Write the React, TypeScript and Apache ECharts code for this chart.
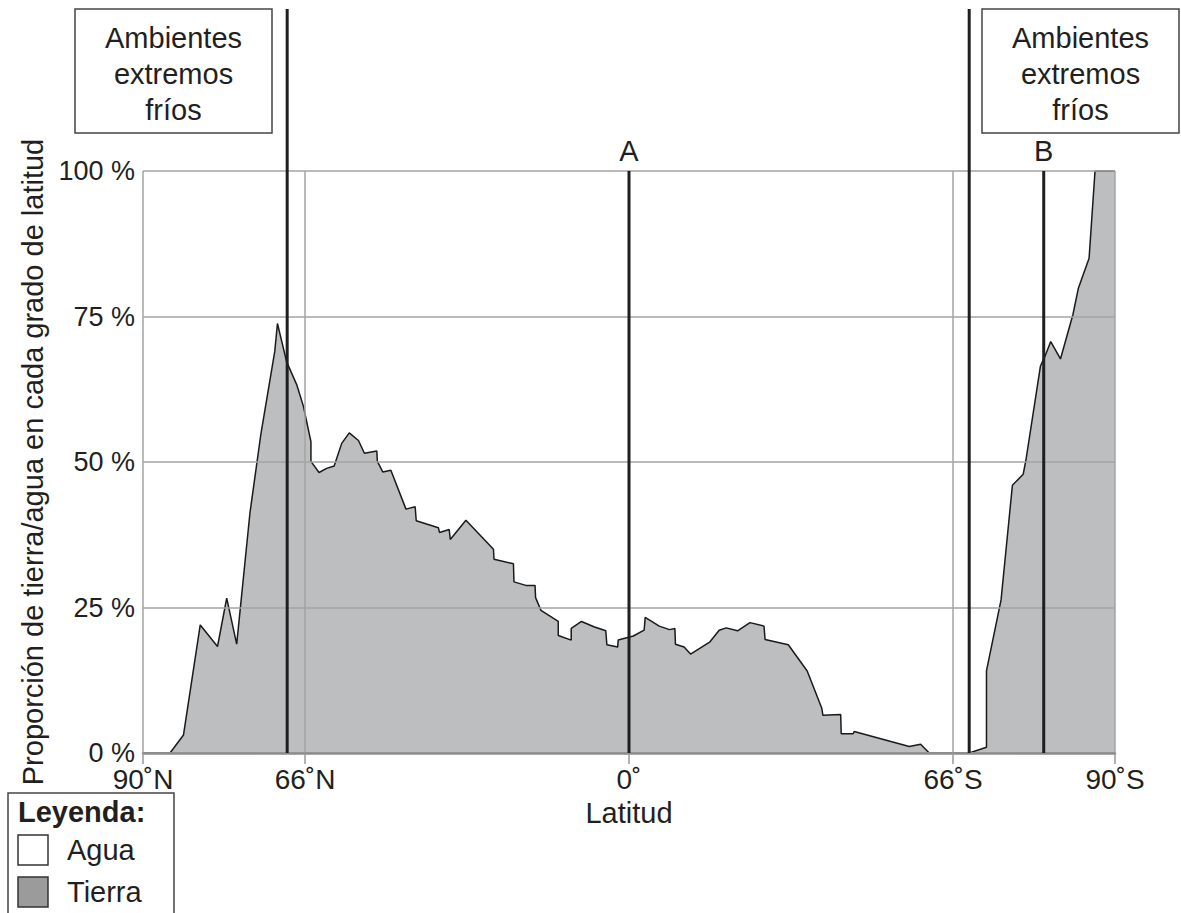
import React, { useEffect, useRef } from "react";
import * as echarts from "echarts";

// Latitude (positive = North, negative = South)
const latitudes = [
  90, 85, 82.5, 79.4, 76.2, 74.5, 72.65, 70.2, 68.2, 65.6, 65.1, 63.4, 61.5, 60.3, 58.9, 58.9,
  57.4, 56, 54.6, 53.2, 51.8, 50.1, 49, 46.7, 46.6, 45.6, 44.1, 41.3, 39.6, 39.4, 35.3, 35.1,
  33.3, 33.1, 30.2, 25.1, 25, 21.4, 21.3, 19.1, 17.4, 17.3, 16.3, 13.1, 13.1, 10.7, 10.7, 8.8,
  6.5, 4.3, 4.1, 2.1, 2, -0.8, -2.8, -3, -5.6, -7.5, -8.5, -8.6, -10.2, -11.4, -15, -16.7,
  -18, -20.1, -22.4, -25, -25.2, -29.5, -33, -35.7, -35.9, -39.2, -39.3, -41.5, -41.7, -51.9,
  -54, -55.6, -63, -66.2, -66.2, -68.9, -71, -73, -73.5, -76.2, -77, -78.1, -79.9, -82.2,
  -83.2, -85.2, -86.3, -90,
];
// Proportion of land (Tierra) in each degree of latitude, %
const tierra = [
  0, 0, 3.1, 22, 18.3, 26.6, 18.7, 41.2, 54.6, 69, 73.8, 67.2, 63.2, 59.6, 53.5, 50.1,
  48.2, 48.9, 49.3, 53.2, 55, 53.7, 51.5, 51.9, 50.1, 48.3, 48.6, 41.9, 42.3, 39.9, 38.7, 37.9,
  38.4, 36.7, 40, 35, 33.3, 32.5, 29.4, 28.8, 28.8, 26.7, 24.5, 22.6, 20.2, 19.4, 21.4, 22.6,
  21.7, 21, 18.6, 18.2, 19.4, 20.1, 21.1, 23.3, 21.8, 21.2, 21.4, 18.7, 18.2, 17, 19.1, 21.1,
  21.5, 21, 22.4, 21.8, 19.5, 18.6, 14.1, 7.7, 6.5, 6.6, 3.3, 3.3, 3.7, 1.1,
  1.5, 0, 0, 1, 14.1, 26.3, 46, 47.9, 50.3, 66.5, 68.1, 70.7, 67.7, 75.3,
  79.8, 85, 100, 100,
];

const xTickValues = [90, 60, 0, -60, -90];
const xTickLabels = ["90˚N", "66˚N", "0˚", "66˚S", "90˚S"];
const boundaryLines = [63.3, -63];
const markedLines = [0, -76.8];
const markedLabels = ["A", "B"];
const boxLines = ["Ambientes", "extremos", "fríos"];
const legendTitle = "Leyenda:";
const legendNames = ["Agua", "Tierra"];
const legendColors = ["#ffffff", "#9b9b9b"];

const TEXT = "#231f20";
const FONT = '"Liberation Sans", Arial, Helvetica, sans-serif';

export default function App() {
  const ref = useRef<HTMLDivElement>(null);
  useEffect(() => {
    if (!ref.current) return;
    const chart = echarts.init(ref.current, null, { renderer: "svg" });
    const labelFor = (v: number) => {
      const i = xTickValues.indexOf(v);
      return i >= 0 ? xTickLabels[i] : "";
    };
    chart.setOption({
      animation: false,
      backgroundColor: "#ffffff",
      grid: { left: 143, right: 66, top: 171, bottom: 160, containLabel: false },
      xAxis: {
        type: "value",
        min: -90,
        max: 90,
        interval: 30,
        inverse: true,
        z: 3,
        name: "Latitud",
        nameLocation: "middle",
        nameGap: 45,
        nameTextStyle: { fontSize: 29, color: TEXT, fontFamily: FONT },
        axisLine: { show: true, lineStyle: { color: "#8c8c8c", width: 2.5 } },
        axisTick: {
          show: true,
          customValues: xTickValues,
          length: 11,
          lineStyle: { color: "#9a9a9a", width: 1.5 },
        },
        axisLabel: {
          show: true,
          customValues: xTickValues,
          margin: 12,
          fontSize: 28,
          color: TEXT,
          fontFamily: FONT,
          formatter: (v: number) => labelFor(v),
        },
        splitLine: { show: true, lineStyle: { color: "#a3a3a3", width: 1.5 } },
      },
      yAxis: {
        type: "value",
        min: 0,
        max: 100,
        interval: 25,
        z: 3,
        name: "Proporción de tierra/agua en cada grado de latitud",
        nameLocation: "middle",
        nameGap: 92,
        nameTextStyle: { fontSize: 29, color: TEXT, fontFamily: FONT },
        axisLine: { show: true, lineStyle: { color: "#a3a3a3", width: 1.5 } },
        axisTick: { show: false },
        axisLabel: {
          margin: 8,
          fontSize: 27,
          color: TEXT,
          fontFamily: FONT,
          formatter: "{value} %",
        },
        splitLine: { show: true, lineStyle: { color: "#a3a3a3", width: 1.5 } },
      },
      series: [
        {
          type: "line",
          name: "Tierra",
          data: latitudes.map((lat, i) => [lat, tierra[i]]),
          symbol: "none",
          z: 2,
          lineStyle: { color: "#1a1a1a", width: 1.5 },
          areaStyle: { color: "#bdbec0", opacity: 1 },
        },
      ],
    });

    const px = (lat: number, v: number) =>
      chart.convertToPixel({ gridIndex: 0 }, [lat, v]) as number[];

    const graphic: any[] = [];
    boundaryLines.forEach((lat) => {
      const b = px(lat, 0);
      graphic.push({
        type: "line",
        z: 10,
        shape: { x1: b[0], y1: 9, x2: b[0], y2: b[1] },
        style: { stroke: "#1f1f1f", lineWidth: 3 },
      });
    });
    markedLines.forEach((lat, i) => {
      const b = px(lat, 0);
      const t = px(lat, 100);
      graphic.push({
        type: "line",
        z: 10,
        shape: { x1: b[0], y1: t[1], x2: b[0], y2: b[1] },
        style: { stroke: "#1f1f1f", lineWidth: 3 },
      });
      graphic.push({
        type: "text",
        z: 10,
        x: b[0],
        y: t[1] - 20,
        style: {
          text: markedLabels[i],
          fontSize: 29,
          fontFamily: FONT,
          fill: TEXT,
          align: "center",
          verticalAlign: "middle",
        },
      });
    });
    [
      { x: 75, w: 197 },
      { x: 982, w: 197 },
    ].forEach((bx) => {
      graphic.push({
        type: "rect",
        z: 10,
        shape: { x: bx.x, y: 9, width: bx.w, height: 124 },
        style: { fill: "#ffffff", stroke: "#444444", lineWidth: 1.5 },
      });
      graphic.push({
        type: "text",
        z: 11,
        x: bx.x + bx.w / 2,
        y: 74,
        style: {
          text: boxLines.join("\n"),
          fontSize: 29,
          lineHeight: 36,
          fontFamily: FONT,
          fill: TEXT,
          align: "center",
          verticalAlign: "middle",
        },
      });
    });
    // Legend box
    graphic.push({
      type: "rect",
      z: 10,
      shape: { x: 8, y: 793, width: 166, height: 140 },
      style: { fill: "#ffffff", stroke: "#444444", lineWidth: 1.5 },
    });
    graphic.push({
      type: "text",
      z: 11,
      x: 18,
      y: 812,
      style: {
        text: legendTitle,
        fontSize: 29,
        fontWeight: "bold",
        fontFamily: FONT,
        fill: TEXT,
        align: "left",
        verticalAlign: "middle",
      },
    });
    legendNames.forEach((name, i) => {
      const y = 835 + i * 42;
      graphic.push({
        type: "rect",
        z: 11,
        shape: { x: 18, y, width: 30, height: 30 },
        style: { fill: legendColors[i], stroke: "#333333", lineWidth: 1.5 },
      });
      graphic.push({
        type: "text",
        z: 11,
        x: 67,
        y: y + 15,
        style: {
          text: name,
          fontSize: 29,
          fontFamily: FONT,
          fill: TEXT,
          align: "left",
          verticalAlign: "middle",
        },
      });
    });
    chart.setOption({ graphic });

    return () => chart.dispose();
  }, []);
  return (
    <div
      ref={ref}
      style={{ position: "absolute", left: 0, top: 0, width: 1181, height: 913 }}
    />
  );
}
